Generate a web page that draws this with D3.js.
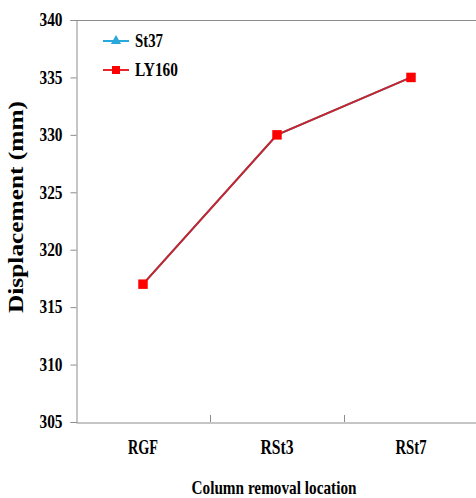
<!DOCTYPE html>
<html>
<head>
<meta charset="utf-8">
<script src="https://cdn.jsdelivr.net/npm/d3@7"></script>
<style>
  body { margin: 0; background: #fff; }
  text { font-family: "Liberation Serif", "Times New Roman", serif; font-weight: bold; }
</style>
</head>
<body>
<div class="container"></div>
<script>
var categories = ["RGF", "RSt3", "RSt7"];
var catWidths = [30, 33, 31];
var st37 = [317, 330, 335];
var ly160 = [317, 330, 335];
var yTicks = [305, 310, 315, 320, 325, 330, 335, 340];

var w = 476, h = 498;
var margin = {top: 20, right: -2, bottom: 76, left: 76};

var svg = d3.select('.container')
  .append('svg')
  .attr('width', w)
  .attr('height', h);

var xScale = d3.scaleBand()
  .domain(categories)
  .range([margin.left, w - margin.right]);
var yScale = d3.scaleLinear()
  .domain([305, 340])
  .range([h - margin.bottom, margin.top]);

/* ===== AXES ===== */
var axisColor = '#8c8c8c';

svg.append('line')
  .attr('x1', margin.left).attr('x2', w)
  .attr('y1', margin.top + 0.5).attr('y2', margin.top + 0.5)
  .attr('stroke', axisColor);

var yAxis = svg.append('g')
  .attr('transform', 'translate(' + (margin.left + 0.5) + ',0)')
  .call(d3.axisLeft(yScale).tickValues(yTicks).tickSize(6).tickPadding(8));
yAxis.select('.domain').attr('stroke', axisColor);
yAxis.selectAll('.tick line').attr('stroke', axisColor);
yAxis.selectAll('.tick text')
  .style('font-size', '18px')
  .attr('fill', '#000')
  .attr('lengthAdjust', 'spacingAndGlyphs')
  .attr('textLength', 23);

var xAxis = svg.append('g')
  .attr('transform', 'translate(0,' + (yScale(305) + 0.5) + ')')
  .call(d3.axisBottom(xScale).tickSize(0).tickPadding(17));
xAxis.select('.domain').attr('stroke', axisColor);
xAxis.selectAll('.tick text')
  .style('font-size', '20px')
  .attr('fill', '#000')
  .attr('lengthAdjust', 'spacingAndGlyphs')
  .attr('textLength', function(d, i) { return catWidths[i]; });

// category separators (inner ticks)
svg.selectAll('.sep')
  .data(categories.slice(1))
  .enter().append('line')
  .attr('x1', function(d) { return xScale(d) + 0.5; })
  .attr('x2', function(d) { return xScale(d) + 0.5; })
  .attr('y1', yScale(305))
  .attr('y2', yScale(305) - 7)
  .attr('stroke', axisColor);

/* ===== LINES ===== */
var line = d3.line()
  .x(function(d, i) { return xScale(categories[i]) + xScale.bandwidth() / 2; })
  .y(function(d) { return yScale(d); });

function drawSeries(values, lineColor, markerColor, shape) {
  svg.append('path')
    .datum(values)
    .attr('fill', 'none')
    .attr('stroke', lineColor)
    .attr('stroke-width', 2)
    .attr('d', line);
  svg.selectAll(null)
    .data(values)
    .enter().append('path')
    .attr('transform', function(d, i) {
      return 'translate(' + (xScale(categories[i]) + xScale.bandwidth() / 2) + ',' + yScale(d) + ')';
    })
    .attr('d', d3.symbol().type(shape).size(shape === d3.symbolSquare ? 90 : 25))
    .attr('fill', markerColor);
}

drawSeries(st37, '#29a8dc', '#29a8dc', d3.symbolTriangle);
drawSeries(ly160, '#cc2229', '#ff0000', d3.symbolSquare);

/* ===== LEGEND ===== */
var legend = [
  {name: 'St37', line: '#29a8dc', marker: '#29a8dc', shape: d3.symbolTriangle},
  {name: 'LY160', line: '#e8262b', marker: '#ff0000', shape: d3.symbolSquare}
];
var lg = svg.selectAll('.lg')
  .data(legend)
  .enter().append('g')
  .attr('transform', function(d, i) { return 'translate(103,' + (41 + i * 29) + ')'; });
lg.append('line')
  .attr('x1', 0).attr('x2', 26)
  .attr('stroke', function(d) { return d.line; })
  .attr('stroke-width', 2);
lg.append('path')
  .attr('transform', 'translate(13,0)')
  .attr('d', function(d) { return d3.symbol().type(d.shape).size(d.shape === d3.symbolSquare ? 64 : 45)(); })
  .attr('fill', function(d) { return d.marker; });
lg.append('text')
  .attr('x', 32)
  .attr('dy', '0.35em')
  .style('font-size', '18px')
  .attr('lengthAdjust', 'spacingAndGlyphs')
  .attr('textLength', function(d) { return d.name === 'St37' ? 28 : 43; })
  .text(function(d) { return d.name; });

/* ===== LABELS ===== */
svg.append('text')
  .attr('x', 274)
  .attr('y', 494)
  .style('text-anchor', 'middle')
  .style('font-size', '19px')
  .attr('lengthAdjust', 'spacingAndGlyphs')
  .attr('textLength', 165)
  .text('Column removal location');

svg.append('text')
  .attr('transform', 'translate(23,207) rotate(-90)')
  .style('text-anchor', 'middle')
  .style('font-size', '20px')
  .attr('lengthAdjust', 'spacingAndGlyphs')
  .attr('textLength', 212)
  .text('Displacement (mm)');
</script>
</body>
</html>
